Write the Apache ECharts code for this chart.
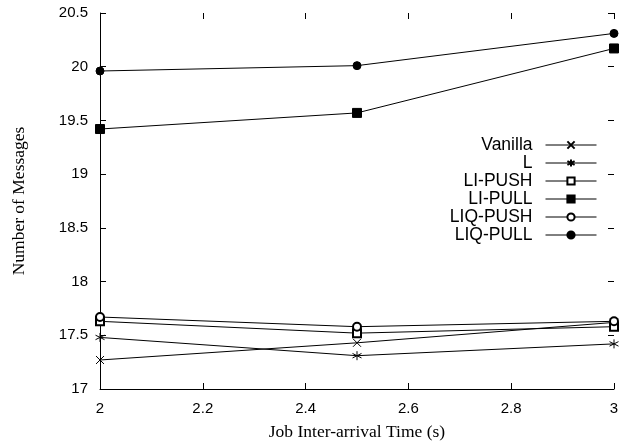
<!DOCTYPE html>
<html>
<head>
<meta charset="utf-8">
<script src="https://cdn.jsdelivr.net/npm/echarts@6/dist/echarts.min.js"></script>
<style>
  html, body { margin: 0; padding: 0; background: #fff; }
  #chart { width: 619px; height: 444px; }
</style>
</head>
<body>
<div id="chart"></div>
<script>
var xValues = [2, 2.5, 3];
var vanilla = [17.27, 17.43, 17.62];
var lOnly = [17.48, 17.31, 17.42];
var liPush = [17.63, 17.52, 17.58];
var liPull = [19.42, 19.57, 20.17];
var liqPush = [17.67, 17.58, 17.63];
var liqPull = [19.96, 20.01, 20.31];
var seriesNames = ['Vanilla', 'L', 'LI-PUSH', 'LI-PULL', 'LIQ-PUSH', 'LIQ-PULL'];

var crossPath = 'path://M0,0L10,10M10,0L0,10';
var starPath = 'path://M5,0L5,10M0.7,2.5L9.3,7.5M9.3,2.5L0.7,7.5';

function pairs(ys) {
    var out = [];
    for (var i = 0; i < xValues.length; i++) {
        out.push([xValues[i], ys[i]]);
    }
    return out;
}

function makeSeries(name, ys, symbol, size) {
    return {
        name: name,
        type: 'line',
        data: pairs(ys),
        symbol: symbol,
        symbolSize: size,
        showAllSymbol: true,
        lineStyle: { color: '#000', width: 1 },
        itemStyle: { color: '#000', borderColor: '#000', borderWidth: 1 },
        emphasis: { disabled: true },
        animation: false
    };
}

var chart = echarts.init(document.getElementById('chart'));
var sans = 'Liberation Sans, Arial, sans-serif';
var serif = 'Liberation Serif, Times New Roman, serif';

chart.setOption({
    backgroundColor: '#fff',
    animation: false,
    grid: { left: 100, right: 5, top: 13, bottom: 55, outerBoundsMode: 'none', containLabel: false },
    legend: {
        orient: 'vertical',
        right: 22,
        top: 136,
        padding: 0,
        align: 'right',
        itemWidth: 51,
        itemHeight: 9,
        itemGap: 0,
        data: seriesNames,
        lineStyle: { width: 1 },
        textStyle: { fontFamily: sans, fontSize: 17.5, color: '#000', padding: [0, 8, 0, 0] },
        selectedMode: false
    },
    xAxis: [{
        type: 'value',
        min: 2, max: 3, interval: 0.2,
        name: 'Job Inter-arrival Time (s)',
        nameLocation: 'middle',
        nameGap: 34,
        nameTextStyle: { fontFamily: serif, fontSize: 17.5, color: '#000' },
        axisLine: { lineStyle: { color: '#000', width: 1 } },
        axisTick: { inside: true, length: 6, lineStyle: { color: '#000' } },
        axisLabel: { fontFamily: sans, fontSize: 15, color: '#000', margin: 12 },
        splitLine: { show: false }
    }, {
        type: 'value',
        position: 'top',
        min: 2, max: 3, interval: 0.2,
        axisLine: { show: false },
        axisTick: { inside: true, length: 6, lineStyle: { color: '#000' } },
        axisLabel: { show: false },
        splitLine: { show: false }
    }],
    yAxis: [{
        type: 'value',
        min: 17, max: 20.5, interval: 0.5,
        name: 'Number of Messages',
        nameLocation: 'middle',
        nameGap: 72,
        nameTextStyle: { fontFamily: serif, fontSize: 17.5, color: '#000' },
        axisLine: { show: true, lineStyle: { color: '#000', width: 1 } },
        axisTick: { show: true, inside: true, length: 6, lineStyle: { color: '#000' } },
        axisLabel: { fontFamily: sans, fontSize: 15, color: '#000', margin: 12 },
        splitLine: { show: false }
    }, {
        type: 'value',
        position: 'right',
        min: 17, max: 20.5, interval: 0.5,
        axisLine: { show: false },
        axisTick: { show: true, inside: true, length: 6, lineStyle: { color: '#000' } },
        axisLabel: { show: false },
        splitLine: { show: false }
    }],
    series: [
        makeSeries('Vanilla', vanilla, crossPath, 8),
        makeSeries('L', lOnly, starPath, 9),
        makeSeries('LI-PUSH', liPush, 'emptyRect', 8),
        makeSeries('LI-PULL', liPull, 'rect', 9),
        makeSeries('LIQ-PUSH', liqPush, 'emptyCircle', 8),
        makeSeries('LIQ-PULL', liqPull, 'circle', 8)
    ]
});
</script>
</body>
</html>
